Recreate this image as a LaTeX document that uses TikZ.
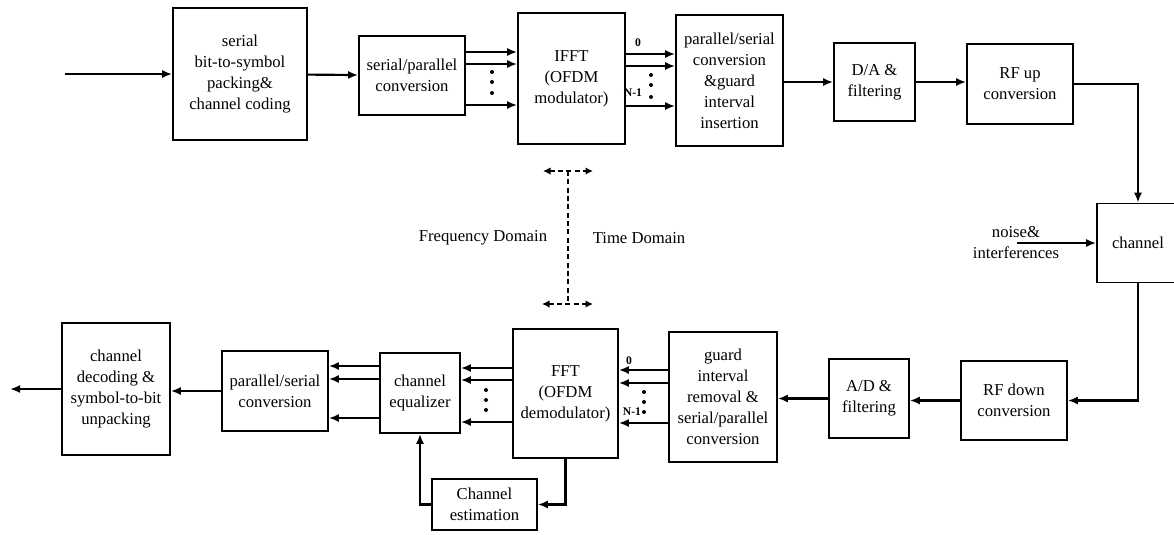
\documentclass[tikz,border=0pt]{standalone}
\usepackage{fontspec}
\setmainfont{Liberation Serif}
\usetikzlibrary{arrows.meta, calc}

\begin{document}
\begin{tikzpicture}[x=0.6pt, y=-0.6pt,
  every node/.style={font=\fontsize{10}{12.6}\selectfont, align=center},
  box/.style={rectangle, draw, line width=1pt, inner sep=0pt},
  boxsize/.style 2 args={minimum width=#1*0.6pt, minimum height=#2*0.6pt},
  arr/.style={-{Latex[length=6pt, width=4.8pt]}, line width=1.3pt},
  dline/.style={line width=1.1pt, dash pattern=on 3pt off 2pt},
  dsh/.style={dline, {Latex[length=4.5pt, width=4.5pt]}-{Latex[length=4.5pt, width=4.5pt]}},
  idx/.style={font=\fontsize{7}{8}\selectfont\bfseries}
]
  \useasboundingbox (0,0) rectangle (1174,534);

  \node[box, boxsize={134}{132}] (pack) at (240,74) {serial\\bit-to-symbol\\packing\&\\channel coding};
  \node[box, boxsize={106}{79}] (sp) at (412,75.5) {serial/parallel\\conversion};
  \node[box, boxsize={107}{131}] (ifft) at (571.5,78.5) {IFFT\\(OFDM\\modulator)};
  \node[box, boxsize={107}{131}] (psg) at (729.5,80.5) {parallel/serial\\conversion\\\&guard\\interval\\insertion};
  \node[box, boxsize={81}{78}] (da) at (874.5,82) {D/A \&\\filtering};
  \node[box, boxsize={106}{80}] (rfup) at (1020,84) {RF up\\conversion};
  \node[box, boxsize={82}{79}] (chan) at (1138,243) {channel};

  \node[box, boxsize={106}{79}] (rfdn) at (1014,400.5) {RF down\\conversion};
  \node[box, boxsize={80}{79}] (ad) at (869,398.5) {A/D \&\\filtering};
  \node[box, boxsize={108}{130}] (gi) at (723,397) {guard\\interval\\removal \&\\serial/parallel\\conversion};
  \node[box, boxsize={105}{129}] (fft) at (565.5,393.5) {FFT\\(OFDM\\demodulator)};
  \node[box, boxsize={80}{80}] (eq) at (420,393) {channel\\equalizer};
  \node[box, boxsize={106}{80}] (psr) at (275,391) {parallel/serial\\conversion};
  \node[box, boxsize={108}{132}] (dec) at (116,389) {channel\\decoding \&\\symbol-to-bit\\unpacking};
  \node[box, boxsize={105}{51}] (est) at (484.5,504.5) {Channel\\estimation};

  \node (noise) at (1016,243) {noise\&\\interferences};
  \node (freq) at (483,238) {Frequency Domain};
  \node (time) at (639,238) {Time Domain};

  \node[idx] (zt) at (638,43) {0};
  \node[idx] (nt) at (633,93) {N-1};
  \node[idx] (zb) at (629,361) {0};
  \node[idx] (nb) at (632,412) {N-1};

  \coordinate (in) at (65,74);
  \coordinate (out) at (10,389);
  \coordinate (nz) at (1017,243);
  \coordinate (dtop) at (568,171);
  \coordinate (dbot) at (568,304);

  \draw[arr] (in) -- (pack);
  \draw[arr] (pack) -- (sp);
  \foreach \y in {52,64,105}
    \draw[arr] (sp.east |- 0,\y) -- (ifft.west |- 0,\y);
  \foreach \y in {54,66,106}
    \draw[arr] (ifft.east |- 0,\y) -- (psg.west |- 0,\y);
  \draw[arr] (psg.east |- da.west) -- (da.west);
  \draw[arr] (da.east) -- (rfup.west |- da.east);
  \draw[arr] (rfup.east) -| (chan.north);
  \draw[arr] (nz) -- (chan.west);
  \draw[arr] (chan.south) |- (rfdn.east);
  \draw[arr] (rfdn.west) -- (ad.east |- rfdn.west);
  \draw[arr] (ad.west) -- (gi.east |- ad.west);
  \foreach \y in {370,383,423}
    \draw[arr] (gi.west |- 0,\y) -- (fft.east |- 0,\y);
  \foreach \y in {368,380,422}
    \draw[arr] (fft.west |- 0,\y) -- (eq.east |- 0,\y);
  \foreach \y in {366,379,418}
    \draw[arr] (eq.west |- 0,\y) -- (psr.east |- 0,\y);
  \draw[arr] (psr.west) -- (dec.east |- psr.west);
  \draw[arr] (dec.west) -- (out);
  \draw[arr] (fft.south) |- (est.east);
  \draw[arr] (est.west) -| (eq.south);

  \foreach \y in {72,82,93} \fill (492,\y) circle (1.2pt);
  \foreach \y in {75,85,97} \fill (651,\y) circle (1.2pt);
  \foreach \y in {390,400,410} \fill (486,\y) circle (1.2pt);
  \foreach \y in {392,402,412} \fill (644,\y) circle (1.2pt);

  \draw[dsh] ($(dtop)+(-25,0)$) -- ($(dtop)+(25,0)$);
  \draw[dline] (dtop) -- (dbot);
  \draw[dsh] ($(dbot)+(-26,0)$) -- ($(dbot)+(25,0)$);
\end{tikzpicture}
\end{document}
